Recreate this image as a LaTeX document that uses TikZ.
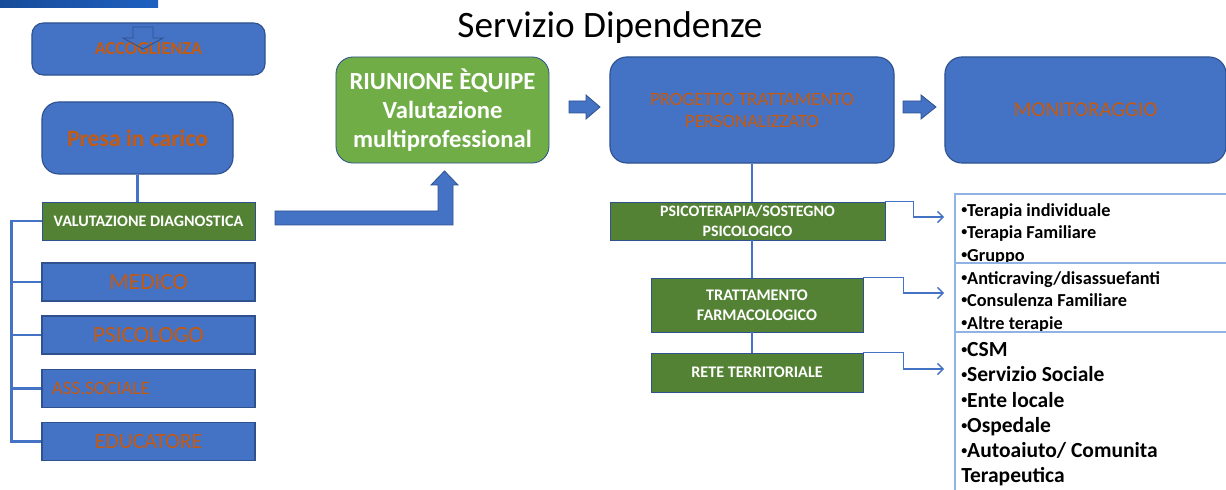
\documentclass[tikz,border=0pt]{standalone}
\usepackage{fontspec}
\setmainfont{Carlito}
\usetikzlibrary{arrows.meta}

\definecolor{boxblue}{HTML}{4472C4}
\definecolor{edgeblue}{HTML}{2F528F}
\definecolor{darkgreen}{HTML}{548235}
\definecolor{lightgreen}{HTML}{70AD47}
\definecolor{txtorange}{HTML}{C55A11}
\definecolor{listblue}{HTML}{8FB4E3}
\definecolor{barblue}{HTML}{1E5FC0}

\newcommand\blt{\raisebox{0.3ex}{\fontsize{8.5}{8.5}\selectfont•}}

\begin{document}
\begin{tikzpicture}[x=0.025cm, y=-0.025cm,
      bluebox/.style ={draw=edgeblue, fill=boxblue, line width=0.8pt, inner sep=0pt, text=txtorange, align=center},
      greenbox/.style ={draw=edgeblue, fill=darkgreen, line width=0.6pt, inner sep=0pt, text=white, align=center},
      rolebox/.style ={bluebox, minimum width=5.325cm, minimum height=0.95cm, font=\fontsize{16.5}{18}\selectfont},
      listtext/.style ={anchor=north west, inner sep=0pt, align=left},
      link/.style ={draw=boxblue, line width=0.9pt, -{Straight Barb[length=4pt,width=8pt]}},
      tree/.style ={draw=boxblue, line width=1.5pt},
      listline/.style ={draw=listblue, line width=0.8pt},
      blockarrow/.style ={fill=boxblue, draw=edgeblue, line width=0.6pt}]
   \useasboundingbox (0,0) rectangle (1226,490);

   \shade[left color=barblue!80!black, right color=barblue] (0,0) rectangle (158,8);
   \node[font=\fontsize{26.5}{30}\selectfont] (title) at (610,28) {Servizio Dipendenze};

   % left column
   \node[bluebox, rounded corners=8pt, minimum width=5.825cm, minimum height=1.3cm, font=\bfseries\fontsize{13}{15}\selectfont] (acc) at (148.5,49) {ACCOGLIENZA};
   \draw[edgeblue, line width=0.6pt] (133,27) -- (153,27) -- (153,38) -- (163,38) -- (143,49) -- (123,38) -- (133,38) -- cycle;

   \node[bluebox, rounded corners=12pt, minimum width=4.775cm, minimum height=1.8cm, font=\bfseries\fontsize{16.8}{19}\selectfont] (presa) at (137.5,138) {Presa in carico};
   \node[greenbox, minimum width=5.325cm, minimum height=0.95cm, font=\bfseries\fontsize{11.4}{13}\selectfont] (valdiag) at (148.5,221) {VALUTAZIONE DIAGNOSTICA};

   \node[rolebox] (medico) at (148.5,282) {MEDICO};
   \node[rolebox] (psicologo) at (148.5,335) {PSICOLOGO};
   \node[rolebox, font=\fontsize{13.5}{16}\selectfont, align=left, inner xsep=0.25cm, text width=4.825cm] (assoc) at (148.5,388.5) {ASS.SOCIALE};
   \node[rolebox, font=\fontsize{15.5}{18}\selectfont] (educ) at (148.5,441.5) {EDUCATORE};

   \draw[tree] (presa.south) -- (presa.south |- valdiag.north);
   \draw[tree] (valdiag.west) -- ++(-30,0) |- (medico.west);
   \draw[tree] (valdiag.west) -- ++(-30,0) |- (psicologo.west);
   \draw[tree] (valdiag.west) -- ++(-30,0) |- (assoc.west);
   \draw[tree] (valdiag.west) -- ++(-30,0) |- (educ.west);

   % top row
   \node[greenbox, fill=lightgreen, rounded corners=12pt, minimum width=5.325cm, minimum height=2.65cm, font=\bfseries\fontsize{17.5}{20.5}\selectfont] (riunione) at (442.5,110) {RIUNIONE ÈQUIPE\\Valutazione\\multiprofessional};
   \node[bluebox, rounded corners=12pt, minimum width=7.1cm, minimum height=2.65cm, font=\fontsize{13.4}{15.6}\selectfont] (progetto) at (752,110) {PROGETTO TRATTAMENTO\\PERSONALIZZATO};
   \node[bluebox, rounded corners=12pt, minimum width=7.025cm, minimum height=2.65cm, font=\fontsize{15}{18}\selectfont] (monit) at (1085.5,110) {MONITORAGGIO};

   \draw[blockarrow] (275,211) -- (438,211) -- (438,185) -- (431,185) -- (444.5,171) -- (458,185) -- (453,185) -- (453,225) -- (275,225) -- cycle;
   \draw[blockarrow] (569,101) -- (586,101) -- (586,95) -- (600,107) -- (586,119) -- (586,113) -- (569,113) -- cycle;
   \draw[blockarrow] (903,101) -- (921,101) -- (921,95) -- (936,107) -- (921,119) -- (921,113) -- (903,113) -- cycle;

   % treatment branches
   \node[greenbox, minimum width=6.875cm, minimum height=0.95cm, font=\bfseries\fontsize{11.3}{14.2}\selectfont] (psico) at (747.5,221) {PSICOTERAPIA/SOSTEGNO\\PSICOLOGICO};
   \node[greenbox, minimum width=5.3cm, minimum height=1.35cm, font=\bfseries\fontsize{11.5}{14.2}\selectfont] (tratt) at (757,305) {TRATTAMENTO\\FARMACOLOGICO};
   \node[greenbox, minimum width=5.3cm, minimum height=0.975cm, font=\bfseries\fontsize{11.5}{13}\selectfont] (rete) at (757,372.5) {RETE TERRITORIALE};

   \draw[tree, line width=1.2pt] (progetto.south) -- (progetto.south |- psico.north);
   \draw[tree, line width=1.2pt] (progetto.south |- psico.south) -- (progetto.south |- tratt.north);
   \draw[tree, line width=1.2pt] (progetto.south |- tratt.south) -- (progetto.south |- rete.north);

   \coordinate (in1) at (944,217);
   \coordinate (in2) at (944,293);
   \coordinate (in3) at (944,369);
   \draw[link] (psico.north east) -- ++(28,0) |- (in1);
   \draw[link] (tratt.north east) -- ++(40,0) |- (in2);
   \draw[link] (rete.north east) -- ++(40,0) |- (in3);

   % lists
   \node[listtext, font=\bfseries\fontsize{13}{16}\selectfont] (list1) at (961,203) {\blt Terapia individuale\\\blt Terapia Familiare\\\blt Gruppo};
   \node[listtext, font=\bfseries\fontsize{13}{16}\selectfont] (list2) at (961,271) {\blt Anticraving/disassuefanti\\\blt Consulenza Familiare\\\blt Altre terapie};
   \node[listtext, font=\bfseries\fontsize{15.3}{18}\selectfont] (list3) at (961,342) {\blt CSM\\\blt Servizio Sociale\\\blt Ente locale\\\blt Ospedale\\\blt Autoaiuto/ Comunita\\Terapeutica};

   \draw[listline] (1226,194) -- (955,194) -- (955,490);
   \draw[listline] (955,263) -- (1226,263);
   \draw[listline] (955,332) -- (1226,332);
\end{tikzpicture}
\end{document}
